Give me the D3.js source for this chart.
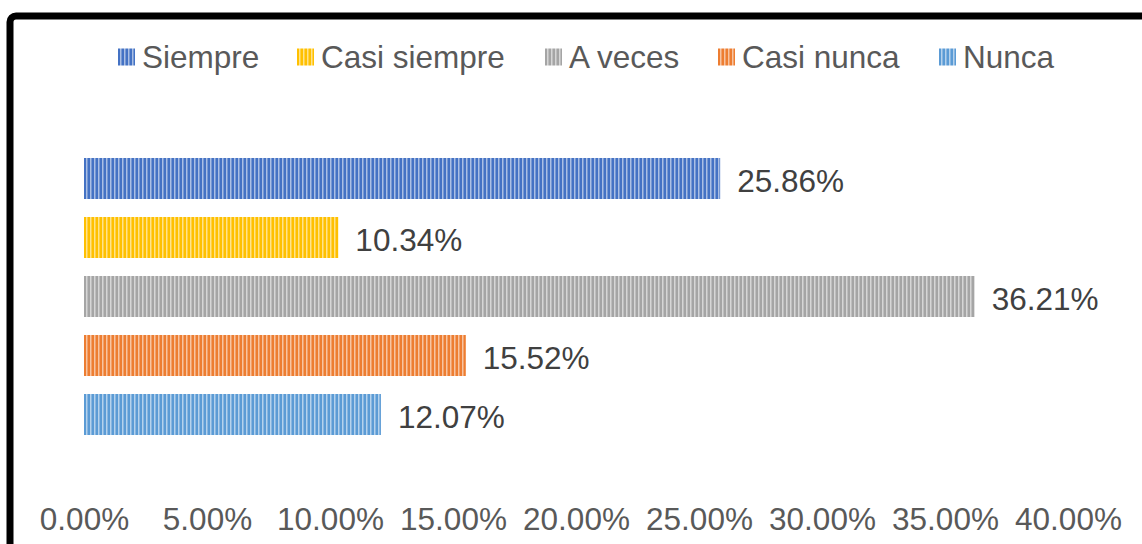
<!DOCTYPE html>
<html lang="es">
<head>
<meta charset="UTF-8">
<title>Frecuencia</title>
<script src="https://cdnjs.cloudflare.com/ajax/libs/d3/7.8.5/d3.min.js"></script>
<style>
  body { margin: 0; background: #fff; }
  svg { display: block; font-family: "Liberation Sans", Arial, sans-serif; }
</style>
</head>
<body>
<svg id="chart" width="1142" height="544"></svg>
<script>
// data
var categories = ["Siempre", "Casi siempre", "A veces", "Casi nunca", "Nunca"];
var values = [0.2586, 0.1034, 0.3621, 0.1552, 0.1207];
var colors = ["#4472C4", "#FFC000", "#A5A5A5", "#ED7D31", "#5B9BD5"];
var tickValues = [0, 0.05, 0.10, 0.15, 0.20, 0.25, 0.30, 0.35, 0.40];

var svg = d3.select("#chart");

// frame, runs off the right and bottom of the picture
svg.append("rect")
  .attr("x", 10).attr("y", 16)
  .attr("width", 1200).attr("height", 600)
  .attr("rx", 6)
  .attr("fill", "none")
  .attr("stroke", "#000")
  .attr("stroke-width", 7);

// vertical stripe patterns, one per colour
var defs = svg.append("defs");
colors.forEach(function(c, i) {
  var p = defs.append("pattern")
    .attr("id", "stripe" + i)
    .attr("patternUnits", "userSpaceOnUse")
    .attr("width", 4).attr("height", 8);
  p.append("rect").attr("width", 4).attr("height", 8).attr("fill", c);
  p.append("rect").attr("x", 2).attr("width", 1.5).attr("height", 8)
    .attr("fill", "#fff").attr("opacity", 0.55);
});

var x = d3.scaleLinear().domain([0, 0.4]).range([84, 1068]);
var y = d3.scaleBand().domain(categories).range([149, 444])
  .paddingInner(0.305).paddingOuter(0.1525);

svg.selectAll("rect.bar")
  .data(categories)
  .enter().append("rect")
  .attr("class", "bar")
  .attr("x", x(0))
  .attr("y", function(d) { return y(d); })
  .attr("width", function(d, i) { return x(values[i]) - x(0); })
  .attr("height", y.bandwidth())
  .attr("fill", function(d, i) { return "url(#stripe" + i + ")"; });

svg.selectAll("text.lbl")
  .data(categories)
  .enter().append("text")
  .attr("class", "lbl")
  .attr("x", function(d, i) { return x(values[i]) + 17; })
  .attr("y", function(d) { return y(d) + y.bandwidth() / 2; })
  .attr("dy", "0.42em")
  .attr("fill", "#404040")
  .style("font-size", "31.5px")
  .text(function(d, i) { return (values[i] * 100).toFixed(2) + "%"; });

// x axis labels only
var xAxis = d3.axisBottom(x)
  .tickValues(tickValues)
  .tickSize(0)
  .tickPadding(0)
  .tickFormat(function(d) { return (d * 100).toFixed(2) + "%"; });

var gx = svg.append("g")
  .attr("transform", "translate(0,508)")
  .call(xAxis);
gx.select(".domain").remove();
gx.selectAll("text")
  .attr("fill", "#595959")
  .style("font-size", "31.5px")
  .style("font-family", "'Liberation Sans', Arial, sans-serif");

// legend
var legendX = [118, 297, 545, 718, 939];
var lg = svg.append("g").selectAll("g")
  .data(categories)
  .enter().append("g")
  .attr("transform", function(d, i) { return "translate(" + legendX[i] + ",57)"; });
lg.append("rect")
  .attr("x", 0).attr("y", -8.5)
  .attr("width", 17).attr("height", 17)
  .attr("fill", function(d, i) { return "url(#stripe" + i + ")"; });
lg.append("text")
  .attr("x", 24)
  .attr("dy", "0.35em")
  .attr("fill", "#595959")
  .style("font-size", "31.5px")
  .text(function(d) { return d; });
</script>
</body>
</html>
